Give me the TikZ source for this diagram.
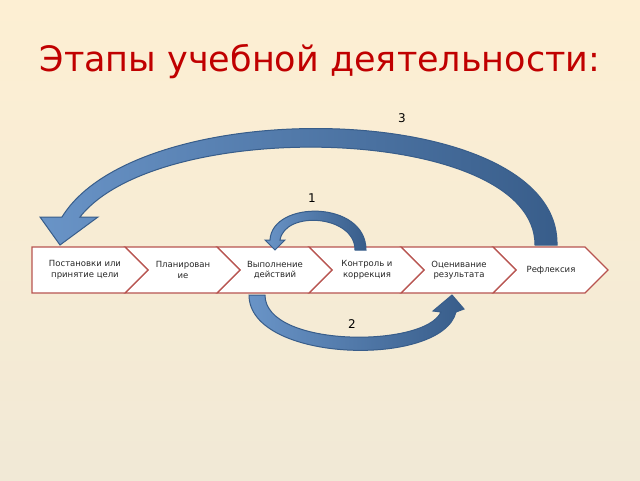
\documentclass[tikz,border=0pt]{standalone}
\usepackage{fontspec}
\setmainfont{DejaVu Sans}
\definecolor{bgtop}{HTML}{FDEFD3}
\definecolor{bgbot}{HTML}{F1E9D6}
\definecolor{ttl}{HTML}{C00000}
\definecolor{arf}{HTML}{4F81BD}
\definecolor{ard}{HTML}{385D8A}
\definecolor{chb}{HTML}{B85450}
\begin{document}
\begin{tikzpicture}[x=1pt,y=-1pt,
  chev/.style={draw=chb,line width=1.3pt,fill=white,line join=miter},
  ctext/.style={font=\fontsize{8.5}{10.5}\selectfont,align=center,text=black!85},
  arw/.style={draw=ard,line width=1pt,left color=arf!85!white,right color=ard},
  num/.style={font=\fontsize{12}{14}\selectfont}]
\shade[top color=bgtop,bottom color=bgbot] (0,0) rectangle (640,480);
\useasboundingbox (0,0) rectangle (640,480);
\node[font=\fontsize{35}{40}\selectfont,text=ttl] (title) at (320,62) {Этапы учебной деятельности:};
% chevrons
\foreach \i in {5,4,3,2,1} {
  \pgfmathsetmacro{\xa}{125+92*(\i-1)}
  \pgfmathsetmacro{\xb}{\xa+92}
  \draw[chev] (\xa,247) -- (\xb,247) -- (\xb+23,270) -- (\xb,293) -- (\xa,293) -- (\xa+23,270) -- cycle;
}
\draw[chev] (32,247) -- (125,247) -- (148,270) -- (125,293) -- (32,293) -- cycle;
\node[ctext] (c1) at (85,270) {Постановки или\\принятие цели};
\node[ctext] (c2) at (183,270) {Планирован\\ие};
\node[ctext] (c3) at (275,270) {Выполнение\\действий};
\node[ctext] (c4) at (367,270) {Контроль и\\коррекция};
\node[ctext] (c5) at (459,270) {Оценивание\\результата};
\node[ctext] (c6) at (551,270) {Рефлексия};
% arrow 3
\path[arw] (535,245) .. controls (535,125) and (160,115) .. (80,217) -- (98,217) -- (60,245) -- (40,217) -- (62,217)
  .. controls (140,90) and (560,100) .. (557,245) -- cycle;
% arrow 1
\path[arw] (355,250) .. controls (355,215) and (285,210) .. (280,240) -- (285,240) -- (275,250) -- (265,240) -- (270,240)
  .. controls (272,200) and (366,200) .. (366,250) -- cycle;
% arrow 2
\path[arw] (265,295) .. controls (265,348) and (425,348) .. (441,312) -- (433,311) -- (452,295) -- (464,309) -- (456,312)
  .. controls (442,368) and (249,363) .. (249,295) -- cycle;
\node[num] (n3) at (402,118) {3};
\node[num] (n1) at (312,198) {1};
\node[num] (n2) at (352,324) {2};
\end{tikzpicture}
\end{document}
